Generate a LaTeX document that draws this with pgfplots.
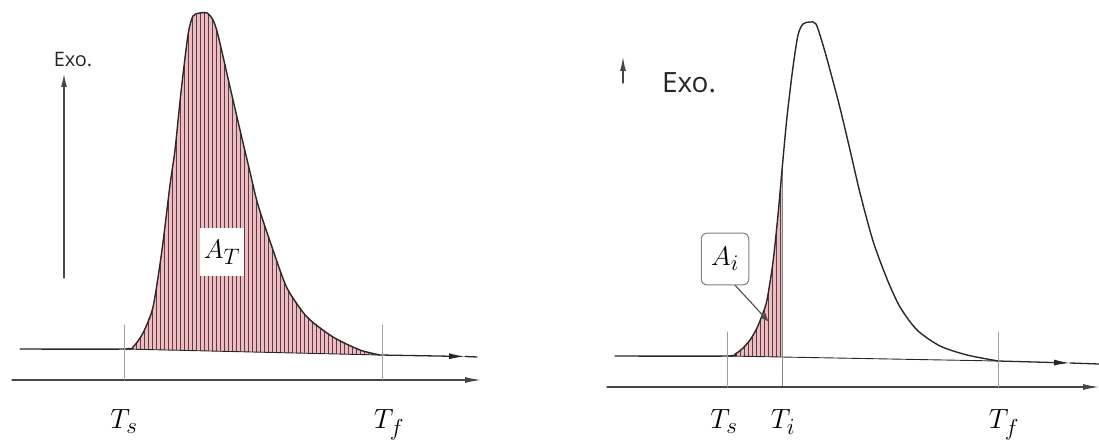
\documentclass[border=0pt]{standalone}
\usepackage{fontspec}
\usepackage{pgfplots}
\pgfplotsset{compat=1.18}
\usetikzlibrary{arrows.meta,patterns.meta}
\newfontfamily\exofont{Open Sans}
\definecolor{peakpink}{RGB}{240,186,192}
\definecolor{hatch}{RGB}{80,66,68}
\definecolor{curve}{RGB}{40,40,40}
\definecolor{guide}{RGB}{160,160,160}
\definecolor{axisgray}{RGB}{70,70,70}
\tikzset{templabel/.style={anchor=north, font=\Huge, scale=1.12},
         arealabel/.style={font=\Huge, scale=1.08}}

% Thermogram of the left panel (total peak area)
\pgfplotstableread{
x y
20 95
124 95
133 97
143 111
153 137
162 194
170 259
175 294
181 352
188 409
193 428
200 431
207 431
213 424
218 409
230 357
240 314
250 272
258 239
273 194
287 156
307 127
333 107
360 94
380 89
}\leftpeak
% Shaded part of the left peak, from T_s to T_f
\pgfplotstableread{
x y
124 95
133 97
143 111
153 137
162 194
170 259
175 294
181 352
188 409
193 428
200 431
207 431
213 424
218 409
230 357
240 314
250 272
258 239
273 194
287 156
307 127
333 107
360 94
380 89
}\leftarea
% Thermogram of the right panel (partial area up to T_i)
\pgfplotstableread{
x y
615 88
727 88
735 90
742 95
750 104
757 116
763 131
767 144
773 182
778 229
782 274
787 327
793 377
798 409
803 420
810 422
816 420
823 399
830 374
840 336
850 294
860 251
873 203
887 165
900 137
917 114
940 98
967 89
998 83
}\rightpeak
\pgfplotstableread{
x y
727 88
735 90
742 95
750 104
757 116
763 131
767 144
773 182
778 229
782 274
782 87
}\rightarea

\begin{document}
\begin{tikzpicture}
\begin{axis}[
  scale only axis, width=1099bp, height=444bp,
  xmin=0, xmax=1099, ymin=0, ymax=444,
  axis lines=none, clip=false,
  every axis plot/.append style={line join=round, line cap=round},
]
% ---------- left panel ----------
\addplot[draw=none, fill=peakpink] table[x=x,y=y] {\leftarea} -- cycle;
\addplot[draw=none, pattern={Lines[angle=90,distance=4bp,line width=0.8bp]}, pattern color=hatch] table[x=x,y=y] {\leftarea} -- cycle;
\addplot[curve, line width=0.9bp] coordinates {(124,95) (380,89)};
\addplot[curve, line width=1.4bp, smooth, tension=0.45] table[x=x,y=y] {\leftpeak};
\addplot[curve, line width=1.3bp, -{Latex[length=16bp,width=6bp]}] coordinates {(380,89) (465,87.5)};
\addplot[curve, line width=1.3bp] coordinates {(465,87.5) (477,87)};
\addplot[axisgray, line width=1.2bp, -{Latex[length=16bp,width=6bp]}] coordinates {(12,64) (481,64)};
\addplot[guide, line width=0.8bp] coordinates {(124,64) (124,119)};
\addplot[guide, line width=0.8bp] coordinates {(382,64) (382,119)};
\addplot[axisgray, line width=1.1bp, -{Latex[length=13bp,width=6bp]}] coordinates {(64,166) (64,370)};
\node[font=\exofont\fontsize{20}{24}\selectfont, text=black!85] at (axis cs:73,384) {Exo.};
\node[fill=white, inner sep=2bp, minimum width=41bp, minimum height=45bp, arealabel] at (axis cs:222,192) {$A_T$};
\node[templabel] at (axis cs:124,38) {$T_s$};
\node[templabel] at (axis cs:389,38) {$T_f$};
% ---------- right panel ----------
\addplot[draw=none, fill=peakpink] table[x=x,y=y] {\rightarea} -- cycle;
\addplot[draw=none, pattern={Lines[angle=90,distance=4bp,line width=0.8bp]}, pattern color=hatch] table[x=x,y=y] {\rightarea} -- cycle;
\addplot[curve, line width=0.9bp] coordinates {(727,88) (998,83)};
\addplot[guide!85!black, line width=0.9bp] coordinates {(782,57) (782,274)};
\addplot[curve, line width=1.4bp, smooth, tension=0.45] table[x=x,y=y] {\rightpeak};
\addplot[curve, line width=1.3bp, -{Latex[length=16bp,width=6bp]}] coordinates {(998,83) (1070,81)};
\addplot[curve, line width=1.3bp] coordinates {(1070,81) (1099,80)};
\addplot[axisgray, line width=1.2bp, -{Latex[length=16bp,width=6bp]}] coordinates {(607,57) (1099,57)};
\addplot[guide, line width=0.8bp] coordinates {(727,57) (727,112)};
\addplot[guide, line width=0.8bp] coordinates {(998,57) (998,112)};
\addplot[axisgray, line width=1.1bp, -{Latex[length=14bp,width=6bp]}] coordinates {(623,361) (623,387)};
\node[font=\exofont\fontsize{28}{32}\selectfont, text=black!85] at (axis cs:689,361) {Exo.};
\addplot[black!70, line width=1.1bp, -{Latex[length=9bp,width=7bp]}] coordinates {(733,161) (769,122)};
\node[draw=guide!80!black, line width=1bp, rounded corners=6bp, fill=white, inner sep=2bp,
      minimum width=44bp, minimum height=48bp, arealabel] at (axis cs:725,185) {$A_i$};
\node[templabel] at (axis cs:724,38) {$T_s$};
\node[templabel] at (axis cs:783,38) {$T_i$};
\node[templabel] at (axis cs:1004,38) {$T_f$};
\coordinate (bl) at (axis cs:0,0);
\coordinate (tr) at (axis cs:1099,444);
\end{axis}
\pgfresetboundingbox
\useasboundingbox (bl) rectangle (tr);
\end{tikzpicture}
\end{document}
